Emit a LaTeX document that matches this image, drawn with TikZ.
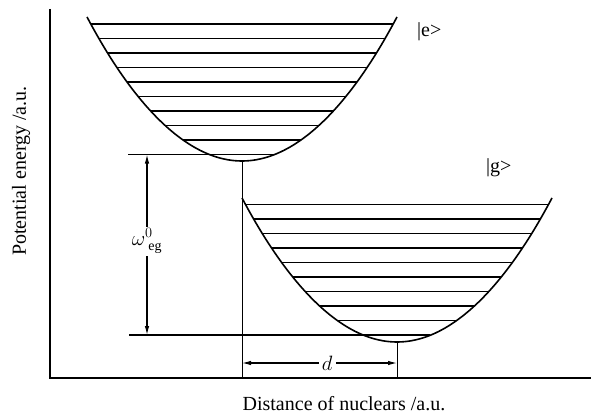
\documentclass[tikz,border=0pt]{standalone}
\usepackage{fontspec}
\setmainfont{Liberation Serif}
\usetikzlibrary{arrows.meta}

\tikzset{
    well/.style={line width=1.6pt},
    level/.style={line width=1.2pt},
    axis/.style={line width=1.6pt},
    guide/.style={line width=0.9pt},
    dimarrow/.style={line width=1.1pt, {Latex[length=9pt,width=4.5pt]}-{Latex[length=9pt,width=4.5pt]}},
    lbl/.style={font=\fontsize{20}{24}\selectfont, inner sep=1pt}
}

\begin{document}
\begin{tikzpicture}[x=1pt, y=-1pt]
    \useasboundingbox (0,0) rectangle (591,417);

	% axes
    \coordinate (ytop) at (50,9);
    \coordinate (origin) at (50,378);
    \coordinate (xend) at (591,378);
	\draw [axis] (ytop) -- (origin) -- (xend);
    \node[lbl, rotate=90] (ylabel) at (21,171) {Potential energy /a.u.};
    \node[lbl] (xlabel) at (344,404) {Distance of nuclears /a.u.};

    % excited state
    \coordinate (emin) at (242,161);
	\draw [well] (87,17) parabola bend (emin) (397,17);
	\foreach \k in {0,...,8} {
        \pgfmathsetmacro{\yy}{24+14.5*\k}
        \pgfmathsetmacro{\dx}{155*sqrt((161-\yy)/144)}
        \draw [level] (242-\dx,\yy) -- (242+\dx,\yy);
    }
    \coordinate (elow) at (128,154.5);
    \draw [level] (elow) -- (275,154.5);
    \node[lbl, right, inner sep=0pt] (eket) at (417,32) {|e>};

    % ground state
    \coordinate (gmin) at (397,342);
	\draw [well] (242,198) parabola bend (gmin) (552,198);
	\foreach \k in {0,...,8} {
        \pgfmathsetmacro{\yy}{204.5+14.5*\k}
        \pgfmathsetmacro{\dx}{155*sqrt((342-\yy)/144)}
        \draw [level] (397-\dx,\yy) -- (397+\dx,\yy);
    }
    \coordinate (glow) at (129,335);
    \draw [level] (glow) -- (430,335);
    \node[lbl, right, inner sep=0pt] (gket) at (486,168) {|g>};

    % drops to the axis
    \coordinate (efoot) at (242,378);
    \coordinate (gfoot) at (397,378);
    \draw [guide] (emin) -- (efoot);
    \draw [guide] (gmin) -- (gfoot);

    % energy gap
    \coordinate (wtop) at (147,154.5);
    \coordinate (wbot) at (147,335);
    \draw [dimarrow] (wtop) -- node[lbl, fill=white, pos=0.48, inner sep=2pt] (wlabel) {$\omega^{0}_{\;\mathrm{eg}}$} (wbot);

    % displacement
    \coordinate (dleft) at (242,363);
    \coordinate (dright) at (397,363);
    \draw [dimarrow] (dleft) -- node[lbl, fill=white, pos=0.55, inner sep=3pt] (dlabel) {$d$} (dright);
\end{tikzpicture}
\end{document}
